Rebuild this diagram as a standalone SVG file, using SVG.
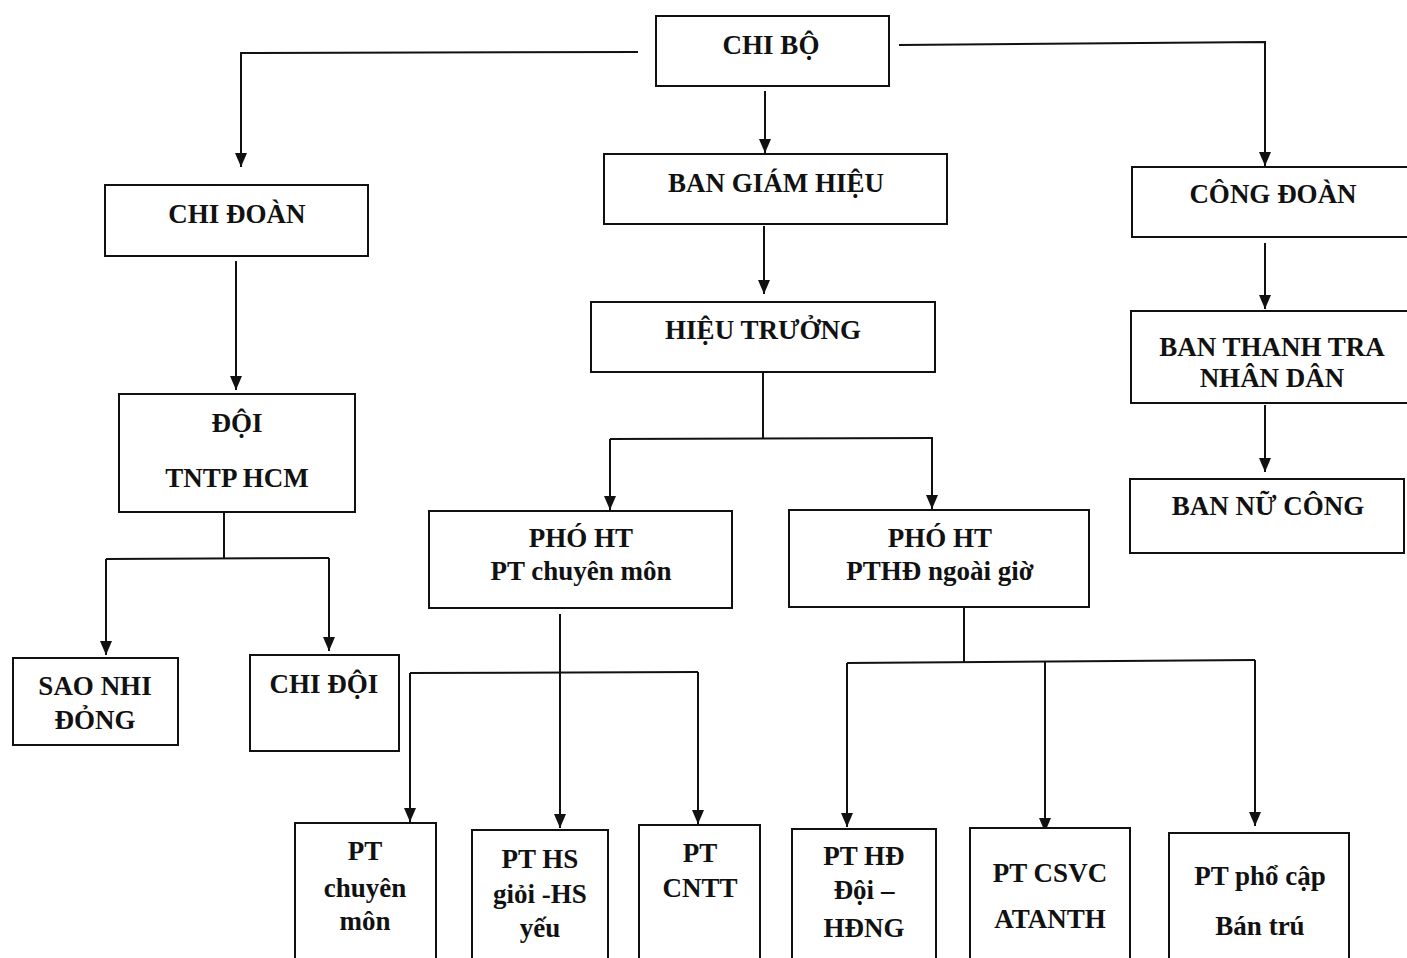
<svg xmlns="http://www.w3.org/2000/svg" width="1407" height="958" viewBox="0 0 1407 958">
<style>
.box{fill:#fff;stroke:#111;stroke-width:2}
.t{font-family:"Liberation Serif","Times New Roman",serif;font-weight:bold;font-size:27px;fill:#111;text-anchor:middle}
.c{fill:none;stroke:#111;stroke-width:2}
</style>
<defs>
<marker id="ah" markerUnits="userSpaceOnUse" markerWidth="14" markerHeight="12" refX="14" refY="6" orient="auto">
<path d="M0,0 L14,6 L0,12 z" fill="#111"/>
</marker>
</defs>
<rect width="1407" height="958" fill="#fff"/>
<g id="connectors">
<path class="c" d="M638,52 L241,53 L241,167" marker-end="url(#ah)"/>
<path class="c" d="M899,45 L1265,42 L1265,166" marker-end="url(#ah)"/>
<path class="c" d="M765,91 L765,153" marker-end="url(#ah)"/>
<path class="c" d="M236,261 L236,390" marker-end="url(#ah)"/>
<path class="c" d="M224,512 L224,558"/>
<path class="c" d="M106,559 L329,558"/>
<path class="c" d="M106,559 L106,655" marker-end="url(#ah)"/>
<path class="c" d="M329,558 L329,651" marker-end="url(#ah)"/>
<path class="c" d="M764,226 L764,294" marker-end="url(#ah)"/>
<path class="c" d="M763,372 L763,438"/>
<path class="c" d="M610,439 L933,438"/>
<path class="c" d="M610,439 L610,510" marker-end="url(#ah)"/>
<path class="c" d="M932,438 L932,509" marker-end="url(#ah)"/>
<path class="c" d="M560,614 L560,672"/>
<path class="c" d="M410,673 L698,672"/>
<path class="c" d="M410,673 L410,822" marker-end="url(#ah)"/>
<path class="c" d="M560,672 L560,828" marker-end="url(#ah)"/>
<path class="c" d="M698,672 L698,824" marker-end="url(#ah)"/>
<path class="c" d="M964,608 L964,662"/>
<path class="c" d="M847,663 L1255,660"/>
<path class="c" d="M847,663 L847,827" marker-end="url(#ah)"/>
<path class="c" d="M1045,662 L1045,832" marker-end="url(#ah)"/>
<path class="c" d="M1255,660 L1255,826" marker-end="url(#ah)"/>
<path class="c" d="M1265,243 L1265,309" marker-end="url(#ah)"/>
<path class="c" d="M1265,405 L1265,472" marker-end="url(#ah)"/>
</g>
<g id="chibo"><rect class="box" x="656" y="16" width="233" height="70"/><text class="t" x="771" y="54">CHI BỘ</text></g>
<g id="chidoan"><rect class="box" x="105" y="185" width="263" height="71"/><text class="t" x="237" y="223">CHI ĐOÀN</text></g>
<g id="doi"><rect class="box" x="119" y="394" width="236" height="118"/><text class="t" x="237" y="432">ĐỘI</text><text class="t" x="237" y="487">TNTP HCM</text></g>
<g id="saonhidong"><rect class="box" x="13" y="658" width="165" height="87"/><text class="t" x="95" y="695">SAO NHI</text><text class="t" x="95" y="729">ĐỎNG</text></g>
<g id="chidoi"><rect class="box" x="250" y="655" width="149" height="96"/><text class="t" x="324" y="693">CHI ĐỘI</text></g>
<g id="bgh"><rect class="box" x="604" y="154" width="343" height="70"/><text class="t" x="776" y="192">BAN GIÁM HIỆU</text></g>
<g id="hieutruong"><rect class="box" x="591" y="302" width="344" height="70"/><text class="t" x="763" y="339">HIỆU TRƯỞNG</text></g>
<g id="phoht1"><rect class="box" x="429" y="511" width="303" height="97"/><text class="t" x="581" y="547">PHÓ HT</text><text class="t" x="581" y="580">PT chuyên môn</text></g>
<g id="phoht2"><rect class="box" x="789" y="510" width="300" height="97"/><text class="t" x="940" y="547">PHÓ HT</text><text class="t" x="940" y="580">PTHĐ ngoài giờ</text></g>
<g id="ptchuyenmon"><rect class="box" x="295" y="823" width="141" height="140"/><text class="t" x="365" y="860">PT</text><text class="t" x="365" y="897">chuyên</text><text class="t" x="365" y="930">môn</text></g>
<g id="pths"><rect class="box" x="472" y="830" width="136" height="135"/><text class="t" x="540" y="868">PT HS</text><text class="t" x="540" y="903">giỏi -HS</text><text class="t" x="540" y="937">yếu</text></g>
<g id="ptcntt"><rect class="box" x="639" y="825" width="121" height="140"/><text class="t" x="700" y="862">PT</text><text class="t" x="700" y="897">CNTT</text></g>
<g id="pthd"><rect class="box" x="792" y="829" width="144" height="136"/><text class="t" x="864" y="865">PT HĐ</text><text class="t" x="864" y="899">Đội –</text><text class="t" x="864" y="937">HĐNG</text></g>
<g id="ptcsvc"><rect class="box" x="970" y="828" width="160" height="137"/><text class="t" x="1050" y="882">PT CSVC</text><text class="t" x="1050" y="928">ATANTH</text></g>
<g id="ptphocap"><rect class="box" x="1169" y="833" width="180" height="132"/><text class="t" x="1260" y="885">PT phổ cập</text><text class="t" x="1260" y="935">Bán trú</text></g>
<g id="congdoan"><rect class="box" x="1132" y="167" width="280" height="70"/><text class="t" x="1273" y="203">CÔNG ĐOÀN</text></g>
<g id="bantt"><rect class="box" x="1131" y="311" width="281" height="92"/><text class="t" x="1272" y="356">BAN THANH TRA</text><text class="t" x="1272" y="387">NHÂN DÂN</text></g>
<g id="bannucong"><rect class="box" x="1130" y="479" width="274" height="74"/><text class="t" x="1268" y="515">BAN NỮ CÔNG</text></g>
</svg>
